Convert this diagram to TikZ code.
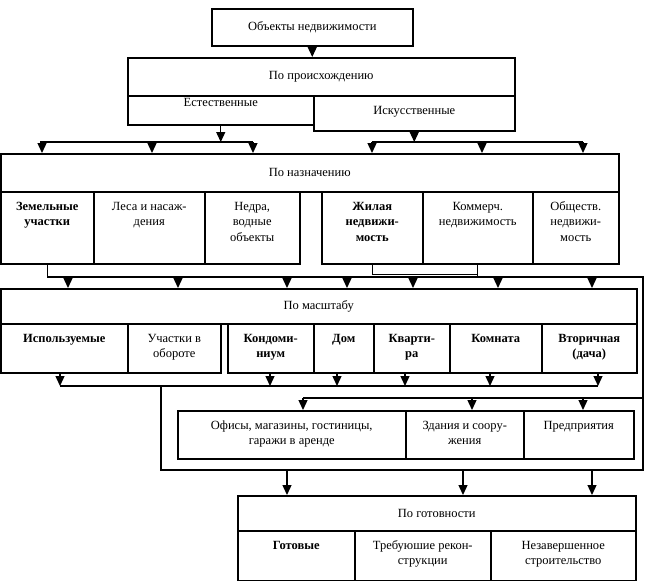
\documentclass[tikz,border=0pt]{standalone}
\usepackage{fontspec}
\setmainfont{Liberation Serif}
\usetikzlibrary{arrows.meta}

\newcommand{\cellbox}[4][7.5pt]{\parbox[c][#3pt][t]{#2pt}{\centering\vspace*{#1}\strut#4\par}}

\begin{document}
\begin{tikzpicture}[x=1pt,y=-1pt,line width=1.3pt,font=\fontsize{12.5}{15.5}\selectfont]
    \tikzstyle{box}=[draw,line width=1.5pt,anchor=north west,inner sep=0pt]
    \tikzstyle{arr}=[-{Triangle[width=9pt,length=10pt]}]
    \useasboundingbox (0,0) rectangle (648,581);

    % headings
    \foreach \name/\x/\y/\w/\h/\txt in {obj/211/8/201/37/Объекты недвижимости,
            orig/127/57/387/38/По происхождению, purp/0/153/618/38/По назначению,
            scale/0/288/636/35/По масштабу, ready/237/495/398/35/По готовности}
        \node[box,minimum width=\w pt,minimum height=\h pt] (\name) at (\x,\y) {\txt};

    % cells
    \node[box] (nat) at (127,95) {\cellbox[0pt]{186}{29}{Естественные}};
    \node[box] (art) at (313,95) {\cellbox{201}{35}{Искусственные}};
    \foreach \name/\x/\w/\txt in {land/0/93/{\bfseries Земельные\\участки},
            forest/93/111/{Леса и насаж-\\дения}, subsoil/204/95/{Недра,\\водные\\объекты},
            housing/321/101/{\bfseries Жилая\\недвижи-\\мость}, comm/422/110/{Коммерч.\\недвижимость},
            publ/532/86/{Обществ.\\недвижи-\\мость}}
        \node[box] (\name) at (\x,191) {\cellbox{\w}{72}{\txt}};
    \foreach \name/\x/\w/\txt in {used/0/127/{\bfseries Используемые},
            traded/127/93/{Участки в\\обороте}, condo/227/86/{\bfseries Кондоми-\\ниум},
            house/313/60/{\bfseries Дом}, flat/373/76/{\bfseries Кварти-\\ра},
            room/449/92/{\bfseries Комната}, second/541/95/{\bfseries Вторичная\\(дача)}}
        \node[box] (\name) at (\x,323) {\cellbox{\w}{49}{\txt}};
    \foreach \name/\x/\w/\txt in {offices/177/228/{Офисы, магазины, гостиницы,\\гаражи в аренде},
            bldg/405/118/{Здания и соору-\\жения}, firms/523/110/{Предприятия}}
        \node[box] (\name) at (\x,410) {\cellbox{\w}{48}{\txt}};
    \foreach \name/\x/\w/\txt in {done/237/117/{\bfseries Готовые},
            rebuild/354/136/{Требуюшие рекон-\\струкции}, unfin/490/145/{Незавершенное\\строительство}}
        \node[box] (\name) at (\x,530) {\cellbox{\w}{50}{\txt}};

    % buses
    \coordinate (bus1) at (0,142);
    \coordinate (bus2) at (0,277);
    \coordinate (bus3) at (0,386);
    \coordinate (bus4) at (0,398);
    \coordinate (frame) at (643,470);

    \draw[arr] (obj.south) -- (obj.south |- orig.north);
    \draw[arr] (nat.south) -- (nat.south |- bus1);
    \draw[arr] (art.south) -- (art.south |- bus1);
    \draw (40,0 |- bus1) -- (253,0 |- bus1);
    \draw (372,0 |- bus1) -- (583,0 |- bus1);
    \foreach \x in {42,152,253,372,482,583}
        \draw[arr] (\x,0 |- bus1) -- (\x,0 |- purp.north);

    \draw (land.south) |- (frame |- bus2) -- (frame) -| (161,0 |- bus3);
    \draw (housing.south) -- ++(0,10) -| (comm.south |- bus2);
    \draw (comm.south) -- (comm.south |- bus2);
    \foreach \x in {68,178,287,347,413,498,592}
        \draw[arr] (\x,0 |- bus2) -- (\x,0 |- scale.north);

    \draw (60,0 |- bus3) -- (598,0 |- bus3);
    \foreach \name/\x in {used/60, condo/270, house/337, flat/405, room/490, second/598}
        \draw[arr] (\x,0 |- \name.south) -- (\x,0 |- bus3);

    \draw (303,0 |- bus4) -- (frame |- bus4);
    \foreach \x in {303,472,583}
        \draw[arr] (\x,0 |- bus4) -- (\x,0 |- offices.north);

    \foreach \x in {287,463,592}
        \draw[arr] (\x,0 |- frame) -- (\x,0 |- ready.north);
\end{tikzpicture}
\end{document}
